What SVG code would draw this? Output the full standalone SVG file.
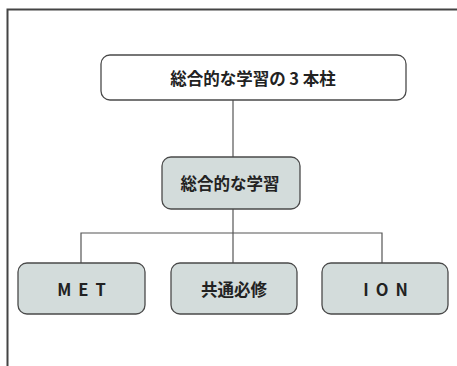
<svg xmlns="http://www.w3.org/2000/svg" width="457" height="366" viewBox="0 0 457 366">
<style>
.box{stroke:#4a4a4a;stroke-width:1.3}
.top{fill:#ffffff}
.fill{fill:#d3dcdb}
.t{font-family:"Noto Sans CJK JP","Liberation Sans",sans-serif;font-size:16.5px;font-weight:bold;fill:#222222;text-anchor:middle;dominant-baseline:central}
.conn{stroke:#555;stroke-width:1.2;fill:none}
</style>
<rect width="457" height="366" fill="#ffffff"/>
<path d="M7.5,366 V9.5 H457" fill="none" stroke="#444" stroke-width="2"/>
<g id="connectors">
<line class="conn" x1="233" y1="100" x2="233" y2="157"/>
<line class="conn" x1="233" y1="209" x2="233" y2="263"/>
<polyline class="conn" points="81,263 81,233 382,233 382,263"/>
</g>
<g id="root">
<rect class="box top" x="101" y="55" width="305" height="45" rx="9"/>
<text class="t" x="253" y="78">総合的な学習の 3 本柱</text>
</g>
<g id="sogo">
<rect class="box fill" x="162" y="157" width="138" height="52" rx="9"/>
<text class="t" x="230" y="183">総合的な学習</text>
</g>
<g id="met">
<rect class="box fill" x="18" y="263" width="127" height="51" rx="9"/>
<text class="t" x="85" y="289" letter-spacing="7">MET</text>
</g>
<g id="kyotsu">
<rect class="box fill" x="171" y="263" width="126" height="51" rx="9"/>
<text class="t" x="234" y="289">共通必修</text>
</g>
<g id="ion">
<rect class="box fill" x="322" y="263" width="126" height="51" rx="9"/>
<text class="t" x="389" y="289" letter-spacing="7">ION</text>
</g>
</svg>
